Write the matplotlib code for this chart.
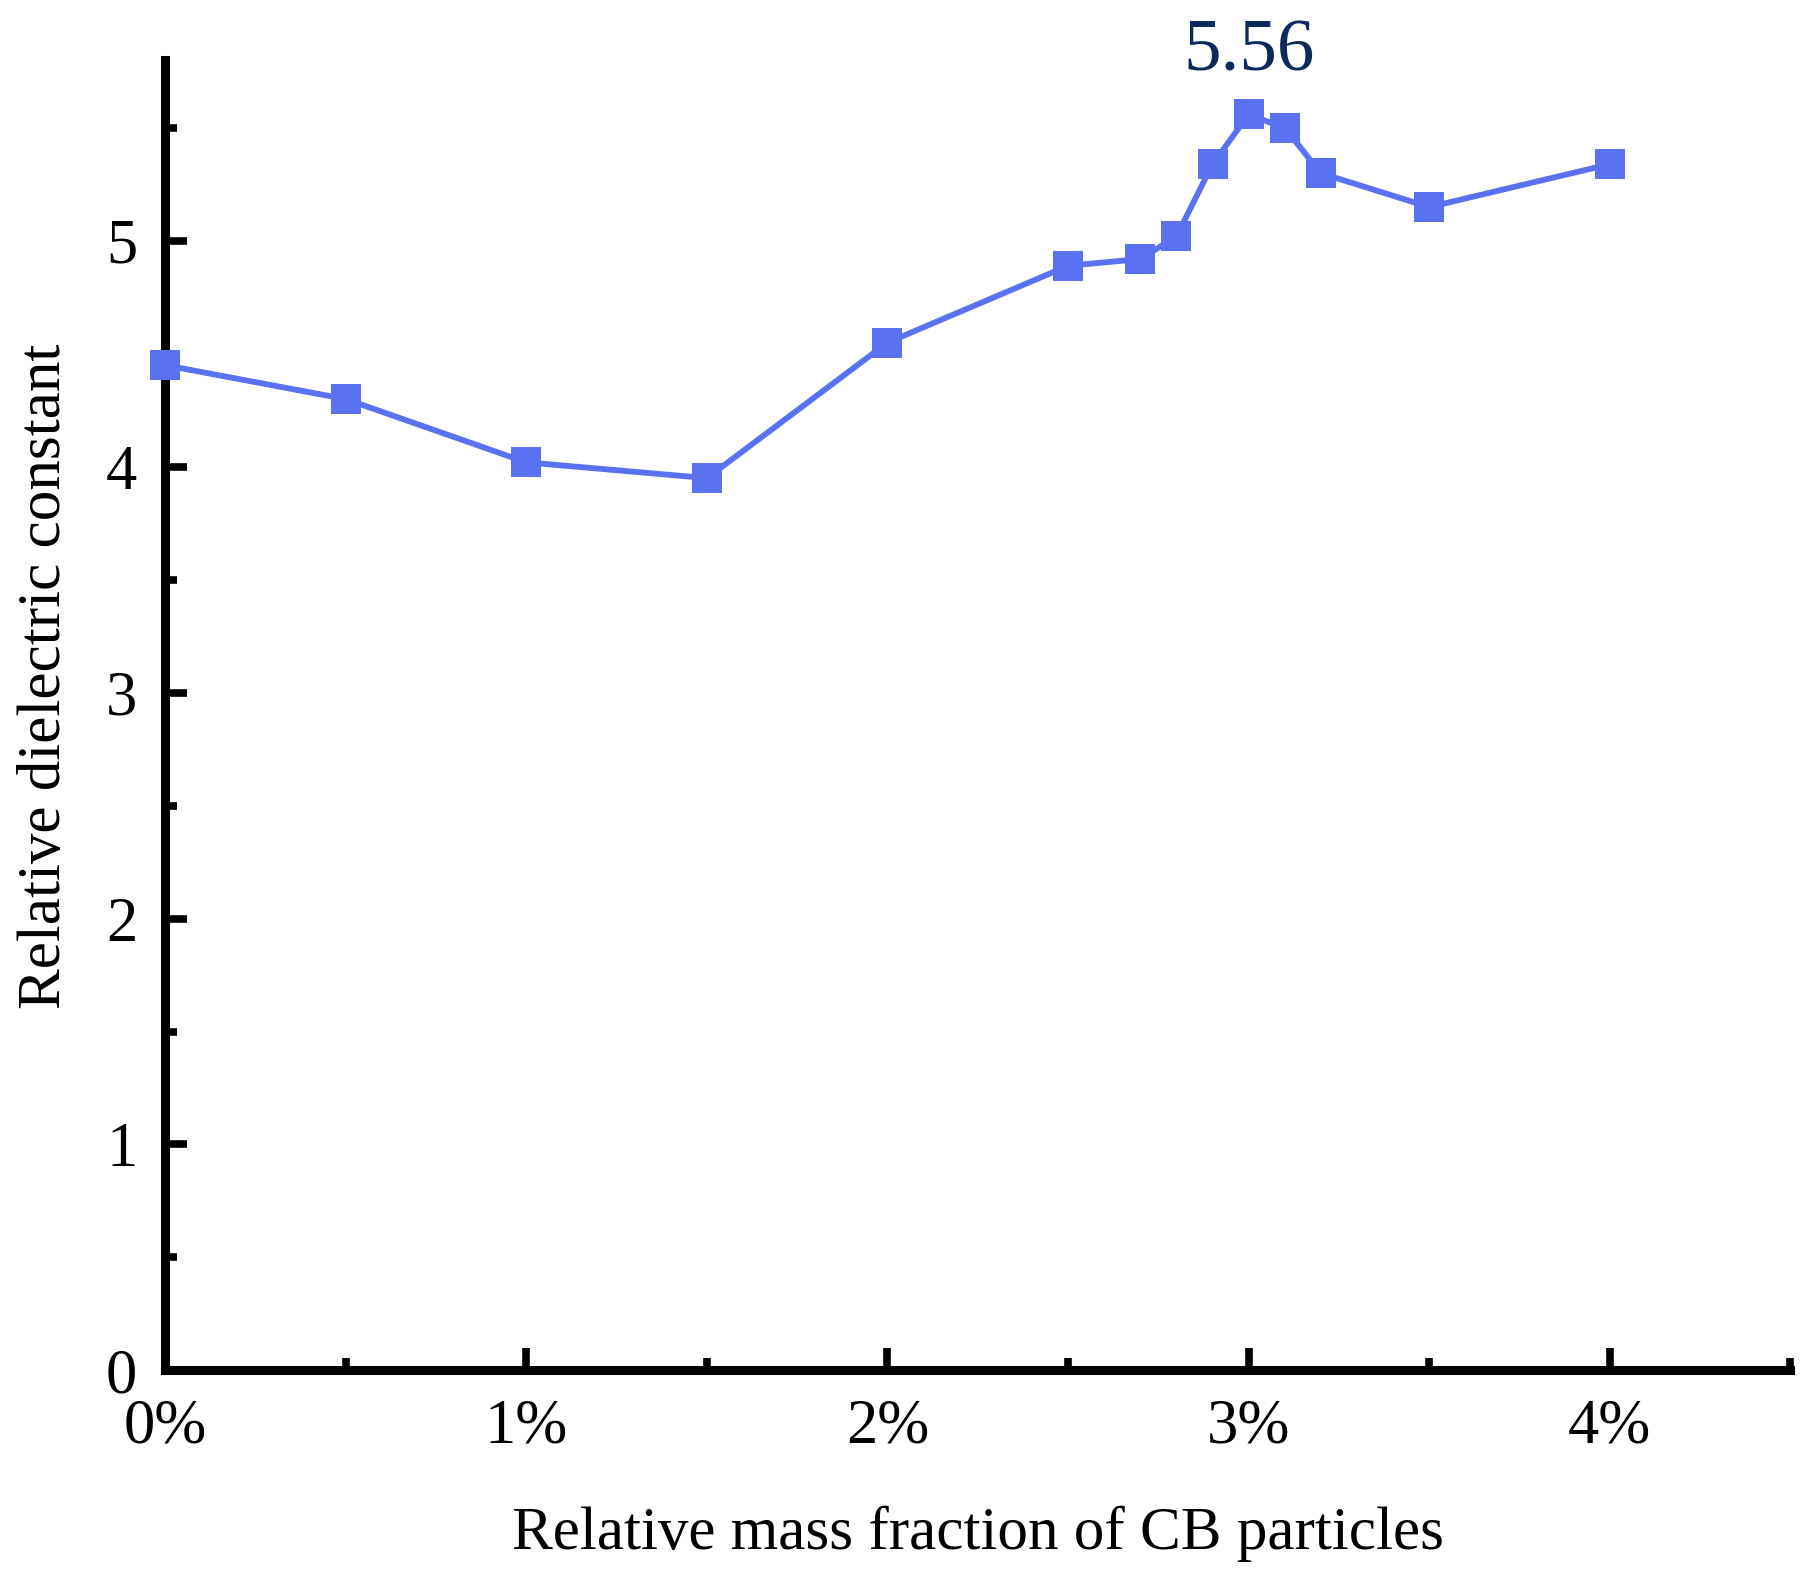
import matplotlib
matplotlib.use("Agg")
import matplotlib.pyplot as plt
from matplotlib.ticker import MultipleLocator, FuncFormatter

# 数据部分
mass_frac = [0, 0.5, 1.0, 1.5, 2.0, 2.5, 2.7, 2.8, 2.9, 3.0, 3.1, 3.2, 3.5, 4.0]
dielectric = [4.45, 4.30, 4.02, 3.95, 4.55, 4.89, 4.92, 5.02, 5.34, 5.56, 5.50, 5.30, 5.15, 5.34]
peak_label = "5.56"

plt.rcParams['font.family'] = ['Liberation Serif', 'DejaVu Serif']

fig = plt.figure(figsize=(18.08, 15.86), dpi=100)
ax = fig.add_axes([0.0913, 0.136, 0.899, 0.826])

ax.plot(mass_frac, dielectric, color='#5A72F2', linewidth=4.2,
        marker='s', markersize=22, markeredgewidth=0, clip_on=False, zorder=3)

# 峰值标注
i_max = dielectric.index(max(dielectric))
ax.annotate(peak_label, (mass_frac[i_max], dielectric[i_max]), xytext=(0, 20),
            textcoords='offset points', ha='center', va='bottom',
            fontsize=54, color='#0D2A5C', annotation_clip=False)

ax.set_xlim(0, 4.5)
ax.set_ylim(0, 5.8)
ax.xaxis.set_major_locator(MultipleLocator(1))
ax.xaxis.set_minor_locator(MultipleLocator(0.5))
ax.yaxis.set_major_locator(MultipleLocator(1))
ax.yaxis.set_minor_locator(MultipleLocator(0.5))
ax.xaxis.set_major_formatter(FuncFormatter(lambda v, p: f"{v:.0f}%"))

for s in ['top', 'right']:
    ax.spines[s].set_visible(False)
for s in ['left', 'bottom']:
    ax.spines[s].set_linewidth(6.5)

ax.tick_params(which='major', direction='in', length=16, width=5.5, labelsize=45, pad=16)
ax.tick_params(which='minor', direction='in', length=8.5, width=5.5)
ax.tick_params(axis='x', pad=20)
ax.tick_params(axis='y', pad=20)

ax.set_xlabel("Relative mass fraction of CB particles", fontsize=44, labelpad=36)
ax.set_ylabel("Relative dielectric constant", fontsize=44, labelpad=24, y=0.53)

fig.savefig("out.png", dpi=100)
